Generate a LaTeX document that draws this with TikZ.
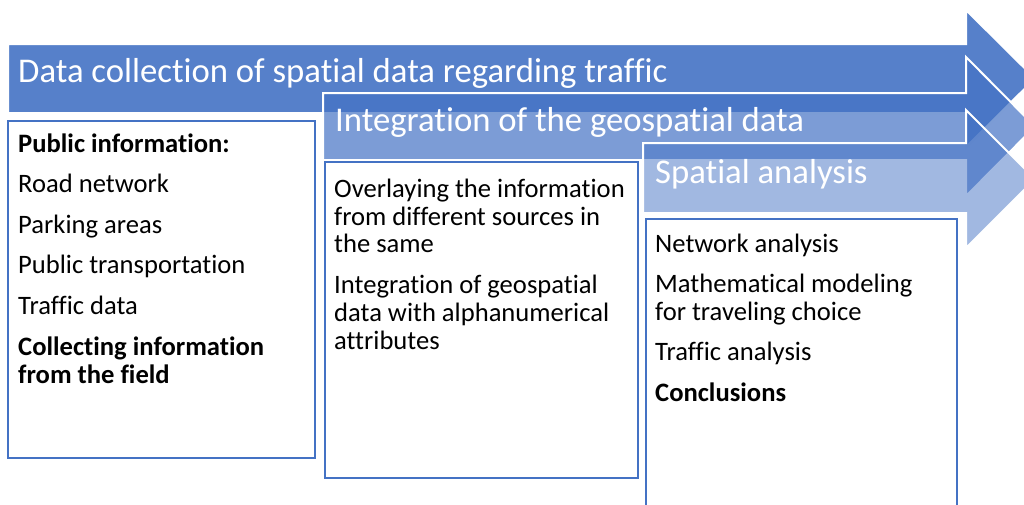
\documentclass[tikz,border=0pt]{standalone}
\usepackage{fontspec}
\setmainfont{Carlito}[Ligatures={NoCommon}]
\definecolor{accent}{HTML}{4472C4}
\begin{document}
\begin{tikzpicture}[x=1pt,y=-1pt,
  arrowshape/.style={fill=accent,draw=white,line width=2pt,line join=miter},
  boxshape/.style={draw=accent,fill=white,line width=1.6pt},
  titletext/.style={anchor=base west,inner sep=0pt,text=white,font=\fontsize{34.7}{40}\selectfont},
  bodytext/.style={anchor=base west,inner sep=0pt,text=black,font=\fontsize{26.6}{30}\selectfont},
  boldtext/.style={bodytext,font=\fontsize{26.6}{30}\selectfont\bfseries}]
\useasboundingbox (0,0) rectangle (1024,504);
\clip (0,0) rectangle (1024,504);
% arrows
\draw[arrowshape,fill opacity=0.9] (8,44) -- (966,44) -- (966,10) -- (1035,78.5) -- (966,147) -- (966,113) -- (8,113) -- cycle;
\draw[arrowshape,fill opacity=0.7] (323,93) -- (966,93) -- (966,57) -- (1035,126.5) -- (966,196) -- (966,160) -- (323,160) -- cycle;
\draw[arrowshape,fill opacity=0.5] (643,143) -- (966,143) -- (966,110) -- (1035,179) -- (966,248) -- (966,213) -- (643,213) -- cycle;
\node[titletext] (t1) at (18,82) {Data collection of spatial data regarding traffic};
\node[titletext] (t2) at (335,131.5) {Integration of the geospatial data};
\node[titletext] (t3) at (655,183) {Spatial analysis};
% boxes
\draw[boxshape] (8,121) rectangle (315,458);
\draw[boxshape] (325,162) rectangle (638,478);
\draw[boxshape] (646,219) rectangle (957,520);
% box 1 text
\node[boldtext] (a1) at (18,152) {Public information:};
\node[bodytext] (a2) at (18,192) {Road network};
\node[bodytext] (a3) at (18,233) {Parking areas};
\node[bodytext] (a4) at (18,273.5) {Public transportation};
\node[bodytext] (a5) at (18,314) {Traffic data};
\node[boldtext] (a6) at (18,355) {Collecting information};
\node[boldtext] (a7) at (18,383.5) {from the field};
% box 2 text
\node[bodytext] (b1) at (334,197) {Overlaying the information};
\node[bodytext] (b2) at (334,225) {from different sources in};
\node[bodytext] (b3) at (334,252) {the same};
\node[bodytext] (b4) at (334,293) {Integration of geospatial};
\node[bodytext] (b5) at (334,321) {data with alphanumerical};
\node[bodytext] (b6) at (334,349) {attributes};
% box 3 text
\node[bodytext] (c1) at (655,252) {Network analysis};
\node[bodytext] (c2) at (655,292.5) {Mathematical modeling};
\node[bodytext] (c3) at (655,320.5) {for traveling choice};
\node[bodytext] (c4) at (655,360.5) {Traffic analysis};
\node[boldtext] (c5) at (655,401) {Conclusions};
\end{tikzpicture}
\end{document}
